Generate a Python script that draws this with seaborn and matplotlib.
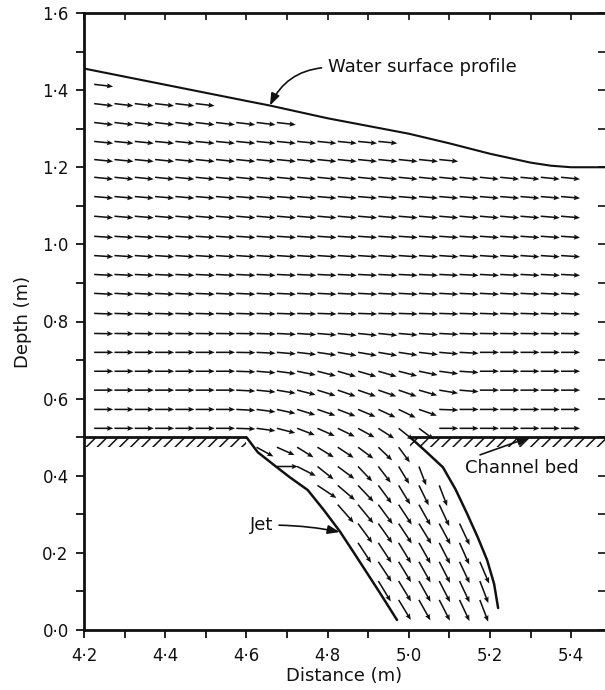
import numpy as np
import pandas as pd
import matplotlib
matplotlib.use("Agg")
import matplotlib.pyplot as plt
from matplotlib.ticker import MultipleLocator, FuncFormatter
import seaborn as sns

# Free water surface: distance (m) and depth (m)
surface_x = [4.20, 4.40, 4.60, 4.658, 4.80, 5.00, 5.10, 5.20, 5.30, 5.35, 5.40, 5.49]
surface_d = [1.456, 1.414, 1.372, 1.360, 1.327, 1.287, 1.262, 1.235, 1.212, 1.204, 1.200, 1.200]

# Edges of the jet falling through the slot
jet_left_x = [4.600, 4.628, 4.675, 4.707, 4.751, 4.790, 4.830, 4.865, 4.897, 4.929, 4.971]
jet_left_d = [0.500, 0.461, 0.422, 0.396, 0.363, 0.312, 0.256, 0.200, 0.148, 0.096, 0.026]
jet_right_x = [5.003, 5.040, 5.084, 5.115, 5.143, 5.170, 5.193, 5.210, 5.220]
jet_right_d = [0.500, 0.465, 0.422, 0.365, 0.303, 0.240, 0.181, 0.120, 0.057]

# Channel bed either side of the slot
bed_depth = 0.50
bed_left_x = [4.20, 4.60]
bed_right_x = [5.003, 5.49]

# Velocity vectors: tail positions of the columns (m)
col_x = [4.225, 4.275, 4.325, 4.375, 4.425, 4.475, 4.525, 4.575, 4.625, 4.675,
         4.725, 4.775, 4.825, 4.875, 4.925, 4.975, 5.025, 5.075, 5.125, 5.175,
         5.225, 5.275, 5.325, 5.375]
# channel rows: depth, number of vectors, downward angle (deg)
row_d = [1.415, 1.365, 1.316, 1.267, 1.220, 1.174, 1.124, 1.073, 1.021, 0.971,
         0.922, 0.873, 0.821, 0.769, 0.720, 0.671, 0.622, 0.572, 0.523]
row_count = [1, 6, 10, 15, 18, 24, 24, 24, 24, 24, 24, 24, 24, 24, 24, 24, 24, 24, 24]
row_angle = [7, 7, 7, 6, 6, 6, 5, 5, 4, 4, 3, 3, 2, 1, 0, 0, 0, 0, 0]
arrow_len = 0.047

# drawdown above the slot: angles for the lowest six rows, columns 6..18
slot_first_col = 6
slot_angle = [
    [1, 1, 2, 3, 4, 5, 6, 6, 6, 5, 4, 3, 2],
    [0, 1, 3, 5, 7, 9, 10, 10, 10, 9, 7, 5, 3],
    [0, 2, 5, 8, 12, 15, 17, 17, 17, 15, 12, 8, 4],
    [0, 3, 6, 10, 15, 18, 20, 20, 20, 20, 17, 10, 5],
    [0, 3, 8, 13, 18, 20, 22, 24, 26, 27, 20, 2, 0],
    [0, 2, 8, 15, 22, 25, 27, 30, 34, 40, 38, 0, 0],
]

# vectors inside the jet: depth, first column, angles (deg), length (m)
jet_row_d = [0.474, 0.424, 0.375, 0.325, 0.276, 0.226, 0.177, 0.127, 0.078]
jet_first_col = [8, 9, 11, 12, 13, 13, 14, 14, 15]
jet_angle = [
    [30, 25, 33, 33, 35, 38, 45, 55],
    [0, 28, 40, 38, 48, 54, 60, 70],
    [35, 42, 48, 55, 60, 65, 70],
    [50, 52, 55, 58, 62, 66],
    [55, 56, 58, 60, 63, 66],
    [58, 58, 60, 62, 64, 67],
    [58, 60, 62, 64, 66, 68],
    [60, 60, 62, 64, 66, 70],
    [60, 62, 64, 66, 70],
]
jet_len = [0.048, 0.052, 0.057, 0.061, 0.061, 0.061, 0.061, 0.061, 0.060]

x_ticks = [4.2, 4.4, 4.6, 4.8, 5.0, 5.2, 5.4]
y_ticks = [0.0, 0.2, 0.4, 0.6, 0.8, 1.0, 1.2, 1.4, 1.6]

# ---------------------------------------------------------------- vectors
records = []
slot_row0 = len(row_d) - len(slot_angle)
for i, (d, n, a0) in enumerate(zip(row_d, row_count, row_angle)):
    for k in range(n):
        ang = a0
        j = i - slot_row0
        if j >= 0 and slot_first_col <= k < slot_first_col + len(slot_angle[j]):
            ang = slot_angle[j][k - slot_first_col]
        records.append((col_x[k], d, ang, arrow_len))
for d, k0, angs, L in zip(jet_row_d, jet_first_col, jet_angle, jet_len):
    for m, ang in enumerate(angs):
        records.append((col_x[k0 + m], d, ang, L))
vec = pd.DataFrame(records, columns=["x", "depth", "angle", "length"])
theta = np.deg2rad(vec["angle"].to_numpy())
vec["u"] = vec["length"] * np.cos(theta)
vec["v"] = -vec["length"] * np.sin(theta)

# ---------------------------------------------------------------- figure
sns.set_style("ticks")
plt.rcParams["font.family"] = ["DejaVu Sans"]
plt.rcParams["hatch.linewidth"] = 1.1

fig = plt.figure(figsize=(6.05, 6.90), dpi=100)
ax = fig.add_axes([84 / 605, 60 / 690, 521 / 605, 617 / 690])
ax.set_xlim(4.2, 4.2 + 521 / 406)
ax.set_ylim(0.0, 1.6)

ink = "#111111"
surface = pd.DataFrame({"x": surface_x, "d": surface_d})
sns.lineplot(data=surface, x="x", y="d", ax=ax, color=ink, lw=1.5, sort=False)
left = pd.DataFrame({"x": jet_left_x, "d": jet_left_d})
right = pd.DataFrame({"x": jet_right_x, "d": jet_right_d})
sns.lineplot(data=left, x="x", y="d", ax=ax, color=ink, lw=1.8, sort=False)
sns.lineplot(data=right, x="x", y="d", ax=ax, color=ink, lw=1.8, sort=False)

# bed with hatching
for bx in (bed_left_x, bed_right_x):
    ax.plot(bx, [bed_depth, bed_depth], color=ink, lw=2.0, solid_capstyle="butt")
    ax.fill_between(bx, bed_depth - 0.026, bed_depth, facecolor="none",
                    edgecolor=ink, hatch="///", linewidth=0)

ax.quiver(vec["x"], vec["depth"], vec["u"], vec["v"], angles="xy",
          scale_units="xy", scale=1, pivot="tail", color=ink,
          width=0.003, headwidth=3.3, headlength=4.0, headaxislength=3.5)

# labels with leader arrows
arrow_kw = dict(arrowstyle="-|>,head_length=0.6,head_width=0.22", color=ink,
                lw=1.2, shrinkA=2, shrinkB=0, mutation_scale=12)
ax.annotate("Water surface profile", xy=(4.658, 1.360), xytext=(4.800, 1.459),
            ha="left", va="center", fontsize=13, color=ink,
            arrowprops=dict(connectionstyle="arc3,rad=0.3", relpos=(0.0, 0.5), **arrow_kw))
ax.annotate("Jet", xy=(4.830, 0.254), xytext=(4.608, 0.272),
            ha="left", va="center", fontsize=13, color=ink,
            arrowprops=dict(connectionstyle="arc3,rad=-0.05", relpos=(1.0, 0.5), **arrow_kw))
ax.annotate("Channel bed", xy=(5.298, 0.500), xytext=(5.138, 0.420),
            ha="left", va="center", fontsize=13, color=ink,
            arrowprops=dict(connectionstyle="arc3,rad=0.0", relpos=(0.03, 1.0), **arrow_kw))

# axes, ticks
fmt = FuncFormatter(lambda v, _: f"{v:.1f}".replace(".", "\u00b7"))
ax.set_xticks(x_ticks)
ax.set_yticks(y_ticks)
ax.xaxis.set_major_formatter(fmt)
ax.yaxis.set_major_formatter(fmt)
ax.xaxis.set_minor_locator(MultipleLocator(0.1))
ax.yaxis.set_minor_locator(MultipleLocator(0.1))
ax.tick_params(which="both", direction="out", length=6, width=1.3, colors=ink,
               top=False, right=False)
ax.tick_params(axis="x", which="both", pad=6, labelsize=12)
ax.tick_params(axis="y", which="both", pad=5, labelsize=12)
ax.set_xlabel("Distance (m)", fontsize=13, labelpad=2, color=ink)
ax.set_ylabel("Depth (m)", fontsize=13, labelpad=7, color=ink)
for side in ("left", "bottom", "top"):
    ax.spines[side].set_linewidth(2.0)
    ax.spines[side].set_color(ink)
ax.spines["right"].set_visible(False)

top = ax.secondary_xaxis("top")
top.xaxis.set_major_locator(MultipleLocator(0.1))
top.tick_params(direction="in", length=5, width=1.2, colors=ink, labeltop=False)
top.spines["top"].set_visible(False)
rgt = ax.secondary_yaxis("right")
rgt.yaxis.set_major_locator(MultipleLocator(0.1))
rgt.tick_params(direction="in", length=5, width=1.2, colors=ink, labelright=False)
rgt.spines["right"].set_visible(False)

fig.savefig("out.png", dpi=100, facecolor="white")
